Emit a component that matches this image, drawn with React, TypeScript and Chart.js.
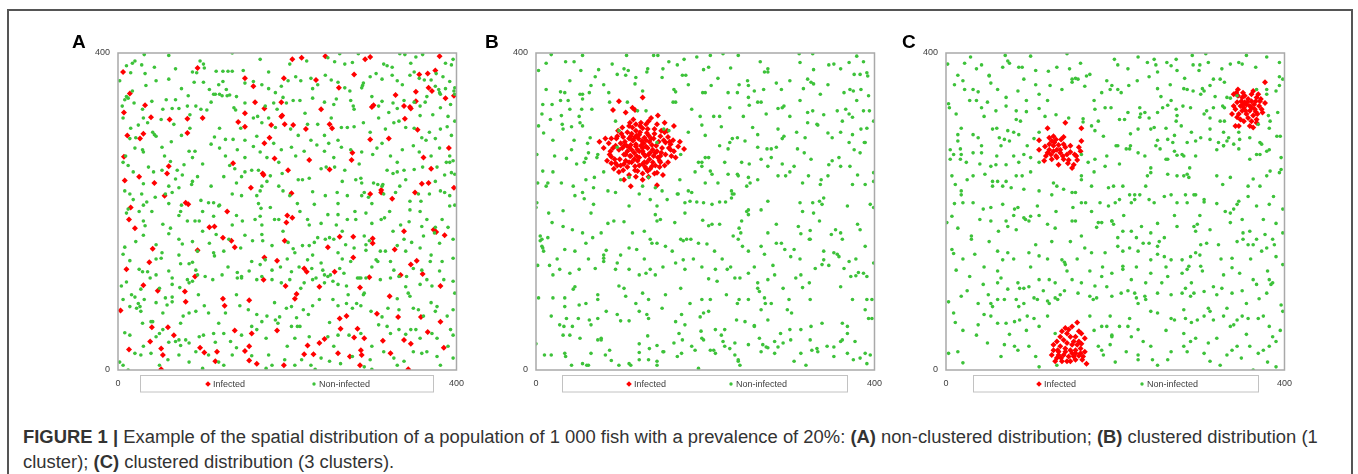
import React, { useEffect, useLayoutEffect, useRef } from "react";
import { Chart, registerables } from "chart.js";

Chart.register(...registerables);

// ---------- data ----------
const AXIS_MIN = 0;
const AXIS_MAX = 400;
const TICK_STEP = 400; // ticks: 0 and 400
const SERIES_NAMES = ["Infected", "Non-infected"];
const PANEL_LETTERS = ["A", "B", "C"];

// flat [x, y, x, y, ...] lists in data units (0..400)
const A_INFECTED = [
  6,376, 94,381, 206,392, 217,394, 245,396, 292,392, 298,395, 380,396, 279,373, 356,373, 366,374, 375,378,
  150,368, 196,368, 234,366, 160,358, 14,349, 261,356, 367,356, 371,352, 352,351, 328,347, 387,343, 397,346,
  32,334, 193,338, 162,338, 173,330, 150,324, 240,329, 300,332, 302,334, 345,332, 346,330, 352,339, 338,333,
  7,325, 39,319, 61,316, 82,317, 100,318, 142,313, 150,307, 193,320, 194,321, 197,310, 181,309, 207,309,
  222,304, 250,310, 253,305, 339,317, 354,303, 11,296, 30,298, 26,292, 82,299, 179,293, 173,286, 298,291,
  320,292, 391,280, 7,269, 277,274, 276,265, 226,265, 185,267, 361,268, 136,261, 60,257, 58,248, 171,248,
  172,246, 201,252, 250,253, 370,254, 25,244, 8,239, 43,236, 157,230, 359,235, 367,236, 397,230, 55,220,
  205,223, 298,222, 311,227, 311,224, 324,216, 351,224, 80,211, 83,209, 15,205, 13,190, 20,179, 129,200,
  200,195, 206,192, 199,186, 108,180, 114,181, 338,175, 373,177, 376,174, 386,170, 124,167, 134,163, 138,155,
  197,163, 262,168, 278,168, 301,166, 301,160, 41,153, 94,151, 248,155, 327,152, 173,142, 188,138, 278,142,
  353,138, 346,133, 37,136, 10,127, 220,128, 223,124, 256,124, 360,121, 334,120, 91,118, 297,117, 30,107,
  47,100, 79,99, 172,114, 198,106, 238,105, 286,104, 381,106, 211,96, 209,90, 124,90, 321,93, 155,88,
  80,86, 126,81, 3,75, 40,54, 59,54, 262,65, 270,68, 306,71, 331,67, 358,67, 381,61, 263,52,
  283,52, 138,50, 158,46, 188,50, 66,44, 38,36, 279,41, 291,40, 313,37, 338,38, 366,48, 224,31,
  238,34, 244,39, 346,33, 385,28, 13,26, 51,27, 97,28, 102,22, 53,19, 117,23, 150,24, 155,30,
  220,20, 231,20, 260,21, 274,17, 287,25, 288,19, 322,21, 115,11, 155,12, 164,8, 196,6, 286,6,
  51,1, 343,1,
];

const A_NON_INFECTED = [
  31,398, 60,397, 135,400, 168,392, 203,386, 223,390, 248,394, 256,389, 262,399, 268,386, 277,388, 284,399,
  314,386, 318,384, 324,382, 333,399, 339,398, 346,387, 352,395, 360,398, 387,387, 396,392, 394,385, 20,390,
  17,387, 10,384, 28,385, 43,382, 68,380, 88,376, 93,375, 101,386, 97,390, 102,381, 116,377, 124,377,
  130,377, 135,377, 148,378, 178,376,
  32,374, 60,367, 90,363, 101,363, 108,354, 119,360, 124,364, 128,354, 132,347, 120,348, 113,348, 150,362,
  160,364, 170,360, 178,355, 186,350, 193,358, 201,365, 210,370, 216,365, 228,368, 236,360, 245,372, 252,366,
  260,363, 268,356, 274,352, 288,356, 290,362, 298,370, 305,374, 312,367, 324,372, 330,365, 336,360, 345,372,
  350,376, 356,368, 362,366, 370,366, 376,374, 384,370, 392,364, 398,356, 397,352, 387,355, 380,350, 375,358,
  33,359, 10,345, 8,341, 2,365, 17,352,
  40,339, 57,341, 68,341, 72,330, 82,333, 92,333, 98,329, 105,328, 83,346, 53,329, 64,330, 29,329,
  19,337, 5,333, 12,343, 137,331, 139,328, 150,337, 115,348, 123,346, 129,346, 174,333, 184,337, 188,329,
  199,337, 195,344, 207,340, 215,340, 221,324, 230,343, 244,338, 258,342, 275,340, 278,333, 279,329, 289,359,
  308,333, 312,339, 325,337, 330,330, 338,340, 350,338, 357,333, 363,338, 381,331, 393,335, 398,348, 379,354,
  381,348,
  51,316, 30,318, 24,309, 41,300, 43,297, 45,295, 35,312, 21,293, 75,296, 66,310, 85,305, 114,294,
  120,305, 127,291, 136,291, 145,305, 164,295, 170,312, 160,318, 178,318, 186,306, 204,304, 213,296, 224,310,
  236,310, 244,296, 252,318, 264,306, 271,306, 279,307, 290,312, 298,300, 308,318, 316,304, 326,312, 332,314,
  340,306, 357,321, 359,293, 350,305, 368,300, 381,304, 389,307, 398,314, 394,296, 372,322, 6,318, 15,305,
  14,292, 29,278, 30,275, 9,270, 52,281, 63,288, 84,276, 91,276, 88,268, 110,285, 127,270, 141,278,
  150,268, 160,282, 168,275, 176,268, 184,286, 193,278, 205,281, 210,270, 228,290, 235,284, 244,276, 249,286,
  255,268, 264,281, 275,278, 288,275, 301,272, 306,280, 312,286, 322,270, 336,278, 349,283, 356,275, 364,290,
  370,270, 380,280, 388,262, 392,270, 396,264,
  6,262, 12,258, 18,250, 36,256, 42,250, 52,252, 62,263, 70,252, 78,259, 76,246, 68,241, 88,238,
  94,244, 125,244, 132,258, 138,254, 146,244, 150,250, 158,252, 166,252, 180,245, 176,238, 194,248, 213,240,
  218,240, 226,242, 240,254, 246,256, 256,256, 268,252, 281,240, 287,242, 288,236, 302,236, 313,234, 318,252,
  325,248, 330,250, 338,252, 350,253, 360,256, 377,256, 386,246, 392,262, 394,249, 398,247,
  8,226, 14,222, 18,215, 28,222, 30,208, 34,212, 44,218, 56,222, 64,224, 72,230, 87,234, 75,208,
  98,214, 107,211, 113,211, 120,208, 135,222, 146,220, 164,220, 168,226, 170,232, 166,210, 169,204, 195,226,
  203,220, 212,210, 232,209, 245,220, 259,224, 260,210, 271,220, 291,224, 288,220, 296,218, 307,234, 312,232,
  314,222, 321,200, 328,224, 333,232, 345,213, 355,222, 358,213, 368,222, 381,226, 386,224, 392,220, 398,208,
  12,203, 10,198, 25,200, 30,188, 32,182, 53,184, 62,179, 72,195, 74,200, 82,188, 91,188, 96,188,
  113,194, 119,207, 135,183, 147,188, 162,190, 168,194, 170,183, 185,190, 190,190, 224,190, 226,183, 248,196,
  258,183, 260,196, 271,190, 281,190, 293,198, 311,190, 315,192, 334,183, 344,187, 345,202, 357,200, 359,181,
  375,180, 383,190, 392,207,
  21,162, 8,155, 45,158, 52,148, 72,165, 76,159, 88,162, 94,150, 108,160, 116,171, 131,165, 145,154,
  159,163, 170,171, 171,163, 182,157, 201,161, 207,153, 209,148, 218,157, 226,157, 232,161, 236,167, 245,165,
  250,167, 255,165, 260,148, 269,158, 279,154, 291,169, 293,158, 293,151, 297,163, 316,150, 330,157, 338,165,
  347,161, 357,154, 361,169, 374,173, 380,160, 396,165,
  6,146, 14,138, 29,124, 25,127, 35,124, 45,140, 51,141, 72,145, 74,134, 84,134, 88,136, 92,126,
  103,118, 113,148, 114,144, 141,123, 146,118, 158,137, 168,133, 174,139, 182,126, 192,130, 205,124, 214,130,
  224,139, 229,128, 240,135, 242,126, 244,120, 251,120, 262,128, 267,122, 275,137, 283,116, 287,116, 305,139,
  307,137, 322,137, 326,126, 349,128, 359,126, 369,137, 383,137, 396,141,
  4,106, 10,111, 16,95, 20,92, 24,84, 31,89, 27,102, 38,116, 49,103, 56,91, 64,108, 64,92,
  73,104, 64,116, 82,114, 84,110, 88,112, 94,120, 112,114, 123,120, 141,116, 146,116, 164,114, 170,118,
  182,114, 193,110, 203,114, 216,103, 230,114, 234,116, 244,110, 248,118, 254,112, 260,108, 270,106, 272,95,
  285,116, 291,97, 293,116, 310,114, 322,116, 332,118, 341,118, 343,97, 345,93, 357,108, 365,114, 371,106,
  385,114, 396,112, 398,97,
  6,89, 14,80, 22,78, 27,74, 26,80, 39,61, 53,72, 58,82, 64,86, 74,59, 77,68, 84,72,
  92,74, 102,81, 107,72, 119,59, 127,72, 144,81, 154,76, 164,70, 170,61, 176,68, 191,67, 199,78,
  205,80, 211,66, 215,55, 219,76, 230,81, 238,89, 254,89, 260,81, 270,84, 277,78, 282,84, 287,81,
  299,74, 312,67, 319,78, 332,76, 349,78, 355,76, 361,68, 375,74, 377,80, 389,68, 396,76,
  8,47, 14,44, 29,59, 41,61, 45,42, 49,46, 53,51, 68,36, 72,38, 80,38, 84,34, 96,42,
  101,44, 113,46, 125,46, 133,36, 146,44, 158,55, 164,51, 186,63, 189,59, 205,55, 209,40, 212,55,
  226,42, 248,42, 260,44, 273,44, 287,46, 308,57, 318,55, 322,46, 332,51, 346,51, 352,51, 357,40,
  371,46, 377,40, 393,51, 396,44,
  2,10, 6,6, 20,21, 27,19, 39,21, 49,6, 59,13, 72,19, 74,31, 84,10, 92,23, 107,19,
  119,10, 125,6, 135,19, 158,18, 178,19, 182,6, 197,13, 209,6, 217,13, 228,6, 240,15, 250,11,
  263,8, 277,17, 291,4, 298,13, 314,23, 326,15, 330,6, 338,11, 349,23, 359,21, 365,23, 377,17,
  381,6, 396,15, 12,0, 100,2, 175,2, 233,1, 300,1,
  15,375, 45,365, 75,355, 85,322, 110,338, 140,345, 165,320, 230,355, 255,335, 300,345, 320,325, 365,345,
  390,320, 20,280, 55,270, 100,260, 120,280, 150,290, 190,262, 220,276, 260,290, 285,260, 330,262, 375,292,
  30,235, 60,232, 110,232, 140,236, 190,232, 230,225, 265,238, 300,210, 340,240, 375,238, 40,200, 60,210,
  100,200, 140,195, 180,205, 215,200, 240,185, 280,200, 300,185, 325,175, 365,190, 390,180, 30,170, 60,172,
  100,175, 125,150, 150,170, 195,175, 230,145, 265,175, 310,150, 340,150, 370,145, 45,120, 60,125, 130,130,
  155,125, 200,140, 220,110, 265,140, 300,130, 340,105, 380,125, 45,85, 95,95, 140,95, 185,85, 225,70,
  250,60, 290,95, 330,90, 370,85, 30,30, 60,35, 115,35, 140,28, 175,40, 200,30, 255,30, 300,30,
  340,45, 390,30,
];

const B_INFECTED = [
  98,339, 126,344, 91,328, 114,331, 117,328, 106,325, 115,316, 144,321, 133,314, 124,312, 118,310, 110,308,
  102,306, 143,310, 152,312, 126,305, 132,304, 155,302, 163,308, 82,292, 89,292, 96,295, 103,294, 75,288,
  112,295, 122,297, 147,295, 139,292, 151,290, 153,287, 159,285, 168,282, 175,279, 94,283, 104,283, 110,281,
  118,285, 120,278, 126,276, 130,282, 114,290, 87,272, 89,269, 106,272, 112,270, 122,268, 133,272, 141,274,
  147,270, 153,272, 159,278, 165,268, 89,261, 94,261, 104,260, 110,262, 117,257, 126,260, 130,254, 137,257,
  146,256, 147,262, 103,252, 120,251, 132,251, 143,249, 118,244, 112,232, 143,233,
  108,300, 113,298, 118,302, 121,292, 125,289, 128,293, 131,299, 134,288, 137,284, 140,298, 105,288, 100,286,
  98,278, 108,276, 116,274, 119,270, 124,283, 127,273, 134,266, 138,278, 142,283, 145,288, 149,280, 144,268,
  128,262, 122,258, 113,262, 106,264, 99,266, 96,258, 91,280, 86,286, 80,280, 84,264, 101,298, 97,302,
  111,312, 130,310, 136,318, 148,302, 156,294, 162,290, 170,288, 160,270, 156,262, 152,258, 140,248, 133,244,
  126,240, 110,246, 104,240, 98,250, 92,254, 150,246, 157,280, 163,276, 117,294, 112,284, 132,280, 120,264,
  138,262, 126,248, 102,280, 95,292,
  115,290, 119,296, 123,300, 127,286, 130,290, 133,296, 110,292, 107,283, 113,278, 118,282, 122,276, 126,280,
  129,270, 135,274, 139,270, 143,276, 146,264, 141,258, 135,254, 129,256, 116,266, 111,270, 104,272, 100,258,
  93,266, 88,276, 114,306, 123,308, 140,304, 152,300, 158,288, 148,274, 117,252, 108,256, 131,262, 136,292,
];

const B_NON_INFECTED = [
  18,398, 12,387, 3,378, 35,389, 45,389, 55,397, 53,378, 74,379, 90,386, 107,397, 104,380, 109,378,
  132,380, 131,376, 139,397, 144,397, 157,389, 167,385, 175,392, 198,379, 204,382, 206,397, 221,399, 230,381,
  239,397, 265,389, 270,376, 274,380, 311,399, 312,388, 327,399, 328,379, 346,385, 352,386, 370,388, 379,396,
  387,389, 376,373, 383,373, 391,375,
  12,354, 40,365, 34,350, 29,351, 52,348, 55,348, 65,359, 63,350, 86,350, 96,373, 106,372, 118,369,
  117,361, 149,369, 163,354, 165,351, 177,372, 173,372, 197,350, 200,350, 207,359, 227,350, 238,350, 250,365,
  251,359, 258,352, 269,354, 274,376, 284,362, 290,354, 316,355, 321,367, 325,363, 328,361, 336,348, 364,350,
  371,354, 375,352, 384,354, 393,346, 392,371,
  8,335, 19,335, 29,340, 38,340, 55,342, 54,329, 66,329, 40,329, 30,321, 7,323, 51,320, 87,338,
  94,314, 108,338, 120,327, 126,352, 130,327, 162,338, 165,338, 184,329, 194,320, 217,320, 229,331, 251,344,
  252,334, 262,338, 266,338, 272,323, 286,330, 291,331, 293,333, 312,340, 321,325, 327,327, 332,310, 356,327,
  366,329, 370,323, 374,319, 379,340, 387,327, 394,327,
  3,308, 9,299, 17,316, 31,310, 32,304, 42,307, 52,312, 55,308, 64,293, 61,286, 98,302, 151,304,
  157,302, 196,309, 219,307, 232,292, 238,293, 247,289, 229,287, 262,297, 286,304, 291,292, 293,295, 308,300,
  318,293, 333,309, 321,312, 345,299, 350,293, 374,297, 384,304, 391,305, 389,287, 399,314, 370,287, 362,314,
  1,272, 22,270, 36,267, 42,278, 57,262, 59,267, 62,274, 72,268, 73,272, 96,281, 143,287, 171,272,
  192,262, 196,262, 200,268, 204,268, 217,283, 227,279, 223,262, 243,262, 252,260, 262,281, 273,279, 278,279,
  284,281, 278,268, 266,266, 291,260, 309,279, 325,266, 317,274, 346,259, 350,264, 358,268, 371,257, 376,278,
  388,287, 383,274,
  8,251, 14,236, 12,232, 30,236, 44,232, 59,240, 69,243, 85,226, 68,230, 110,243, 126,232, 133,243,
  141,230, 167,222, 180,226, 184,224, 196,257, 206,251, 208,247, 215,236, 227,247, 231,226, 232,222, 238,247,
  239,245, 251,243, 253,236, 249,232, 274,257, 286,245, 295,245, 305,257, 322,245, 337,240, 336,234, 360,257,
  374,234, 389,234, 399,238, 399,249,
  1,211, 0,205, 15,198, 32,201, 46,220, 55,224, 57,216, 68,209, 65,198, 94,224, 110,207, 122,222,
  135,215, 143,207, 149,226, 155,215, 168,222, 176,211, 182,213, 190,212, 198,211, 208,209, 217,212, 224,212,
  231,217, 234,222, 249,200, 251,202, 266,202, 274,213, 312,211, 315,200, 327,211, 328,198, 338,209, 335,213,
  340,217, 368,207, 395,209, 399,205,
  14,167, 5,169, 19,186, 32,181, 43,177, 55,173, 67,167, 77,173, 85,185, 92,188, 104,187, 114,173,
  128,175, 141,196, 143,188, 147,190, 164,186, 176,198, 171,165, 183,165, 197,189, 204,182, 208,184, 217,184,
  240,179, 242,173, 243,188, 251,196, 274,173, 284,184, 310,181, 313,172, 324,176, 324,165, 335,188, 349,171,
  354,177, 360,173, 380,184, 383,177,
  7,156, 9,150, 5,163, 34,152, 59,160, 83,151, 80,141, 110,154, 119,152, 135,165, 137,160, 143,160,
  153,156, 161,150, 174,163, 178,165, 192,160, 202,159, 211,150, 233,169, 239,165, 244,156, 251,150, 266,156,
  284,160, 290,160, 294,152, 301,143, 305,152, 323,165, 340,150, 340,139, 352,148, 362,165, 358,143, 370,137,
  389,156,
  2,132, 16,132, 28,127, 40,122, 51,127, 80,145, 80,137, 94,127, 96,135, 110,127, 122,120, 130,122,
  135,127, 141,120, 165,135, 174,139, 176,127, 204,115, 212,127, 214,112, 226,127, 235,116, 241,116, 251,122,
  262,110, 274,114, 282,120, 307,116, 313,120, 323,110, 338,133, 356,146, 372,118, 378,119, 381,123, 387,122,
  399,135, 391,118,
  3,91, 20,91, 34,91, 44,102, 46,105, 51,82, 59,84, 73,95, 73,89, 98,106, 104,103, 106,93,
  118,84, 126,97, 133,89, 153,95, 171,103, 182,84, 196,89, 206,89, 225,95, 238,84, 240,89, 251,89,
  262,103, 264,99, 270,91, 278,84, 292,103, 299,89, 315,104, 324,89, 360,105, 374,89, 391,89, 397,89,
  18,68, 28,57, 33,55, 43,55, 36,65, 50,65, 63,63, 65,57, 73,65, 83,74, 96,70, 100,62,
  110,62, 122,74, 131,70, 133,65, 149,78, 165,61, 172,70, 176,57, 194,67, 198,72, 204,74, 212,51,
  223,51, 237,63, 247,61, 258,56, 266,76, 271,84, 274,63, 297,76, 302,72, 313,51, 325,55, 338,59,
  362,59, 368,55, 389,76, 393,65,
  0,33, 10,19, 18,19, 34,21, 35,17, 42,6, 55,8, 60,6, 65,21, 73,38, 77,38, 87,25,
  98,6, 112,6, 122,13, 133,13, 143,11, 143,6, 151,23, 167,17, 172,21, 192,2, 195,49, 198,38,
  206,25, 219,44, 221,36, 229,27, 235,19, 239,11, 241,6, 251,32, 266,23, 272,29, 282,21, 286,29,
  292,34, 305,11, 319,6, 326,25, 333,23, 352,29, 360,36, 368,21, 375,13, 391,8, 395,19,
  2,236, 7,165, 8,154, 34,80, 32,44, 40,44, 52,40, 62,6, 77,40, 82,19, 89,12, 110,8,
  122,33, 122,22, 132,43, 134,27, 143,31, 150,23, 163,34, 169,46, 173,38, 184,30, 188,25, 196,40,
  210,25, 212,21, 223,30, 235,34, 239,13, 258,55, 264,40, 268,32, 274,28, 282,36, 289,46, 300,51,
  301,38, 313,21, 324,38, 332,27, 344,30, 352,17, 362,38, 368,46, 377,36, 383,15, 389,21, 397,65,
  20,120, 25,140, 46,150, 62,140, 70,128, 100,145, 128,140, 150,130, 186,140, 196,130, 220,140, 230,130,
  258,130, 270,146, 280,132, 312,140, 330,128, 346,132, 364,128, 378,140,
  20,250, 48,260, 80,250, 100,240, 170,240, 188,250, 200,236, 262,240, 300,250, 315,236, 345,245, 380,246,
  180,300, 200,296, 210,320, 245,320, 256,306, 300,320, 340,322, 360,300, 20,290, 45,290, 180,360, 215,368,
  240,360, 300,365, 345,360, 360,380, 80,360, 70,370, 150,380, 190,395,
];

const C_INFECTED = [
  377,363, 345,354, 343,350, 340,348, 361,348, 369,348, 367,344, 350,344, 357,342, 353,338, 361,339, 371,339,
  377,337, 344,338, 348,333, 352,331, 359,333, 365,329, 373,329, 342,329, 338,323, 346,323, 355,323, 363,321,
  367,316, 361,314, 352,314, 346,308, 342,308, 363,306, 350,327, 359,327, 355,335, 364,335, 349,339, 370,333,
  357,318, 345,346, 353,346, 363,352, 368,323, 374,325, 340,333, 348,316, 359,308, 367,312, 356,338, 361,331,
  351,335, 366,339, 354,327, 344,319, 366,326, 372,342, 351,350,
  141,312, 160,305, 120,305, 110,290, 127,295, 139,294, 160,289, 117,282, 110,278, 127,283, 131,278, 122,278,
  135,274, 141,281, 147,275, 152,272, 159,276, 116,264, 125,266, 131,268, 139,266, 145,265, 151,259, 154,270,
  149,255, 144,261, 130,270, 124,272, 120,274, 133,284, 136,291, 125,289, 130,291, 122,285, 138,270, 133,259,
  155,265, 128,287, 135,278, 143,272, 122,293, 118,270, 127,276, 139,285, 147,283, 157,281,
  155,60, 149,55, 141,53, 157,49, 143,46, 147,42, 135,42, 139,38, 151,36, 155,32, 160,33, 164,40,
  131,36, 127,32, 135,30, 141,27, 147,25, 153,25, 159,27, 164,23, 125,19, 133,19, 139,19, 145,17,
  151,17, 157,18, 162,17, 131,15, 137,11, 143,11, 166,8, 129,11, 149,21, 143,34, 149,32, 137,49,
  153,42, 132,25, 159,21, 147,11, 153,13, 127,25, 145,51, 160,46, 133,23, 141,23, 153,21, 157,36,
  136,15, 161,13,
];

const C_NON_INFECTED = [
  2,386, 22,387, 29,395, 36,380, 42,385, 51,372, 67,382, 70,397, 73,390, 75,387, 86,382, 90,382,
  100,396, 106,378, 121,377, 131,382, 143,399, 146,380, 149,367, 153,368, 159,387, 170,373, 199,392, 203,385,
  227,395, 238,388, 246,392, 248,385, 250,376, 261,388, 266,384, 272,392, 273,378, 291,397, 292,385, 299,378,
  307,399, 310,388, 326,380, 324,367, 336,386, 346,388, 350,386, 355,397, 366,382, 379,395, 394,388, 398,367,
  14,372, 20,365, 22,354, 32,354, 38,351, 53,362, 51,371, 61,354, 71,344, 85,352, 92,367, 106,360,
  110,348, 123,359, 137,354, 149,363, 156,367, 164,358, 166,371, 184,350, 194,354, 196,359, 203,354, 207,350,
  216,359, 226,365, 250,355, 254,345, 281,355, 285,354, 292,352, 303,355, 305,352, 301,348, 312,359, 316,367,
  329,363, 332,344, 336,343, 344,346, 367,354, 379,354, 379,348, 390,352, 394,359, 394,370,
  3,336, 4,331, 12,323, 36,340, 42,331, 49,338, 59,327, 71,333, 83,327, 95,326, 88,314, 83,316,
  110,330, 117,320, 145,318, 162,317, 162,313, 176,329, 180,314, 188,331, 195,331, 205,316, 211,316, 215,325,
  229,331, 230,323, 235,325, 229,319, 240,318, 250,325, 256,331, 262,334, 266,340, 272,329, 273,321, 272,314,
  280,333, 289,331, 305,323, 308,327, 327,333, 316,331, 329,331, 324,314, 329,314, 381,321, 383,314, 369,310,
  392,325,
  14,297, 18,305, 14,289, 32,297, 38,293, 42,283, 55,304, 63,293, 65,283, 69,291, 73,302, 75,289,
  86,297, 96,283, 104,292, 110,300, 172,308, 176,302, 186,295, 203,283, 218,283, 218,298, 227,304, 242,304,
  246,306, 260,305, 262,291, 268,287, 278,308, 285,287, 295,289, 301,293, 312,304, 322,287, 328,283, 332,289,
  334,293, 346,300, 347,291, 359,293, 371,287, 373,285, 382,305, 391,295, 395,295,
  5,266, 9,272, 5,278, 17,279, 18,272, 17,266, 24,262, 32,274, 42,274, 53,257, 59,259, 71,259,
  86,262, 92,272, 100,268, 110,262, 160,272, 168,262, 176,266, 188,257, 201,283, 213,279, 217,279, 227,274,
  242,255, 248,283, 253,279, 260,266, 262,266, 270,276, 273,271, 279,272, 281,270, 288,255, 295,270, 312,291,
  320,278, 328,283, 340,285, 346,279, 359,266, 367,272, 371,272, 379,276, 382,278, 396,268, 396,253,
  7,245, 11,234, 18,226, 32,245, 46,247, 55,238, 61,238, 55,232, 67,232, 71,238, 83,245, 77,230,
  90,245, 92,228, 110,226, 127,236, 125,221, 131,232, 139,228, 149,224, 153,224, 160,245, 172,232, 192,230,
  198,232, 209,232, 217,221, 223,215, 229,221, 236,232, 238,245, 242,249, 262,247, 273,245, 281,245, 285,247,
  287,243, 293,221, 305,215, 320,245, 327,234, 336,243, 357,232, 363,241, 371,232, 379,245, 383,251, 394,249,
  7,194, 18,221, 20,211, 32,211, 44,203, 53,205, 67,209, 81,203, 85,205, 94,190, 100,194, 108,207,
  160,211, 165,211, 172,200, 182,211, 192,207, 196,188, 200,211, 205,215, 219,211, 223,221, 240,215, 246,211,
  258,219, 266,221, 273,211, 283,221, 285,211, 295,221, 305,212, 330,200, 336,198, 340,203, 344,209, 346,213,
  357,219, 367,207, 382,209, 387,219, 398,203,
  1,186, 14,179, 30,169, 53,188, 71,188, 73,181, 83,177, 92,192, 98,188, 120,184, 129,179, 149,188,
  153,188, 160,169, 180,186, 184,186, 196,188, 198,184, 203,167, 209,175, 219,175, 225,167, 231,181, 242,173,
  252,162, 258,167, 273,181, 293,181, 295,175, 297,184, 312,177, 336,186, 351,173, 359,175, 363,158, 377,171,
  386,165, 398,173,
  7,152, 9,147, 30,165, 34,146, 51,162, 61,150, 67,139, 73,148, 98,148, 110,144, 106,158, 125,162,
  137,139, 140,136, 147,162, 164,154, 172,148, 188,148, 203,156, 209,150, 217,154, 227,150, 233,160, 240,160,
  242,139, 250,156, 250,146, 258,143, 266,139, 279,139, 289,143, 295,148, 301,158, 308,160, 322,158, 338,141,
  344,162, 351,165, 357,158, 367,165, 373,150, 379,154, 390,143, 388,158,
  12,126, 28,118, 44,108, 61,125, 61,110, 65,116, 73,102, 87,103, 92,103, 98,105, 110,114, 122,114,
  129,110, 141,133, 143,125, 149,114, 170,125, 176,106, 184,118, 196,122, 209,131, 209,127, 219,114, 236,110,
  242,122, 262,118, 279,122, 285,127, 287,131, 301,131, 303,125, 316,105, 328,120, 338,129, 347,122, 363,114,
  367,108, 382,114, 384,108, 386,110, 398,133,
  3,86, 9,72, 18,93, 38,84, 53,84, 55,80, 61,89, 69,89, 83,89, 86,80, 92,84, 104,91,
  108,89, 120,87, 122,84, 129,91, 132,89, 135,95, 156,97, 170,93, 174,89, 178,91, 196,93, 207,97,
  223,97, 225,91, 235,93, 236,89, 227,84, 250,97, 266,95, 279,97, 283,103, 289,93, 293,97, 305,99,
  326,103, 338,97, 355,84, 379,97, 396,82,
  11,60, 38,57, 53,68, 61,59, 71,59, 81,61, 87,63, 96,68, 104,65, 110,55, 120,68, 129,46,
  170,68, 184,55, 190,55, 194,68, 196,44, 205,55, 217,65, 227,51, 242,74, 250,72, 266,65, 270,63,
  281,76, 283,65, 297,63, 305,68, 310,78, 312,74, 316,63, 328,68, 332,78, 336,55, 340,57, 344,63,
  350,68, 357,65, 369,65, 375,68, 382,55, 398,74,
  3,21, 14,23, 20,9, 36,44, 49,34, 65,17, 69,32, 81,30, 85,25, 98,30, 106,17, 110,4,
  131,6, 184,25, 186,19, 194,32, 196,42, 213,23, 219,42, 227,19, 227,13, 233,36, 242,30, 244,13,
  250,6, 262,13, 266,23, 281,46, 281,30, 285,23, 289,36, 295,40, 305,21, 310,34, 312,11, 324,6,
  332,19, 338,25, 344,30, 349,15, 359,30, 363,0, 369,21, 375,25, 382,30, 386,42, 390,36, 390,4,
  10,360, 28,340, 45,320, 60,305, 80,300, 95,340, 120,340, 130,322, 175,340, 190,365, 215,380, 240,370,
  265,360, 282,368, 300,385, 318,345, 328,300, 312,318, 290,300, 270,296, 250,290, 235,270, 205,260, 190,270,
  175,250, 160,240, 100,250, 80,270, 60,270, 40,260, 25,240, 10,210, 40,190, 62,175, 80,195, 110,195,
  130,200, 150,205, 178,180, 210,195, 250,185, 270,195, 300,195, 320,210, 350,190, 375,190, 390,185, 20,140,
  45,130, 80,140, 100,130, 120,140, 155,140, 185,130, 225,130, 260,130, 300,145, 325,140, 360,140, 380,125,
  25,100, 50,95, 85,110, 115,100, 140,100, 160,110, 190,105, 215,100, 255,110, 290,110, 320,95, 350,100,
  370,90, 20,50, 45,70, 75,45, 95,50, 175,50, 180,30, 200,10, 215,55, 260,50, 290,60, 320,40,
  355,45, 380,10, 395,50,
];

// ---------- styling ----------
const RED = "#ff0000";
const GREEN = "#3dc23a";
const FONT = "'Liberation Sans', Arial, Helvetica, sans-serif";

function toPoints(flat: number[]) {
  const pts: { x: number; y: number }[] = [];
  for (let i = 0; i + 1 < flat.length; i += 2) pts.push({ x: flat[i], y: flat[i + 1] });
  return pts;
}

const plotFrame = {
  id: "plotFrame",
  afterDatasetsDraw(chart: any) {
    const { ctx, chartArea: a } = chart;
    ctx.save();
    ctx.strokeStyle = "#a9a9a9";
    ctx.lineWidth = 1.5;
    ctx.strokeRect(a.left, a.top, a.right - a.left, a.bottom - a.top);
    ctx.restore();
  },
};

const legendBox = {
  id: "legendBox",
  afterDraw(chart: any, _args: any, opts: any) {
    const { ctx, chartArea: a } = chart;
    ctx.save();
    ctx.strokeStyle = "#c2c2c2";
    ctx.lineWidth = 1;
    ctx.strokeRect(Math.round(a.left + opts.boxLeft) + 0.5, Math.round(a.bottom + 5) + 0.5, opts.boxWidth, 16.5);
    const cy = a.bottom + 14;
    ctx.font = `9px ${FONT}`;
    ctx.textBaseline = "middle";
    ctx.textAlign = "left";
    SERIES_NAMES.forEach((name, i) => {
      const ds = chart.data.datasets.find((d: any) => d.label === name);
      if (!ds) return;
      const mx = a.left + opts.markers[i];
      ctx.fillStyle = ds.backgroundColor;
      ctx.beginPath();
      if (ds.pointStyle === "rectRot") {
        const r = 2.8;
        ctx.moveTo(mx, cy - r);
        ctx.lineTo(mx + r, cy);
        ctx.lineTo(mx, cy + r);
        ctx.lineTo(mx - r, cy);
        ctx.closePath();
      } else {
        ctx.arc(mx, cy, 1.7, 0, Math.PI * 2);
      }
      ctx.fill();
      ctx.fillStyle = "#404040";
      ctx.fillText(name, mx + 5, cy + 0.5);
    });
    ctx.restore();
  },
};

type PanelProps = {
  letter: string;
  letterLeft: number;
  plotLeft: number;
  infected: number[];
  nonInfected: number[];
  boxLeft: number;
  boxWidth: number;
  markers: number[];
};

const CANVAS_W = 412;
const CANVAS_H = 390;
const Y_AXIS_W = 58;
const X_AXIS_H = 40;

function Panel(p: PanelProps) {
  const ref = useRef<HTMLCanvasElement>(null);
  useEffect(() => {
    if (!ref.current) return;
    const tickStyle = {
      stepSize: TICK_STEP,
      padding: 8,
      color: "#404040",
      font: { family: FONT, size: 9 },
      maxRotation: 0,
      autoSkip: false,
    };
    const chart = new Chart(ref.current, {
      type: "scatter",
      data: {
        datasets: [
          {
            label: SERIES_NAMES[0],
            data: toPoints(p.infected),
            pointStyle: "rectRot",
            pointRadius: 3,
            backgroundColor: RED,
            borderWidth: 0,
            order: 1,
          },
          {
            label: SERIES_NAMES[1],
            data: toPoints(p.nonInfected),
            pointStyle: "circle",
            pointRadius: 1.8,
            backgroundColor: GREEN,
            borderWidth: 0,
            order: 0,
          },
        ],
      },
      options: {
        responsive: false,
        animation: false,
        events: [],
        layout: { padding: { top: 33, right: 12, left: 0, bottom: 0 } },
        plugins: {
          legend: { display: false },
          tooltip: { enabled: false },
          legendBox: { boxLeft: p.boxLeft, boxWidth: p.boxWidth, markers: p.markers },
        } as any,
        scales: {
          x: {
            type: "linear",
            min: AXIS_MIN,
            max: AXIS_MAX,
            grid: { display: false, drawTicks: false },
            border: { display: false },
            ticks: tickStyle,
            afterFit: (s: any) => {
              s.height = X_AXIS_H;
            },
          },
          y: {
            type: "linear",
            min: AXIS_MIN,
            max: AXIS_MAX,
            grid: { display: false, drawTicks: false },
            border: { display: false },
            ticks: tickStyle,
            afterFit: (s: any) => {
              s.width = Y_AXIS_W;
            },
          },
        },
      },
      plugins: [plotFrame, legendBox],
    } as any);
    return () => chart.destroy();
  }, []);
  return (
    <>
      <canvas
        ref={ref}
        width={CANVAS_W}
        height={CANVAS_H}
        style={{ position: "absolute", left: p.plotLeft - Y_AXIS_W, top: 20, width: CANVAS_W, height: CANVAS_H }}
      />
      <div
        style={{
          position: "absolute",
          left: p.letterLeft,
          top: 32,
          font: `bold 19px ${FONT}`,
          lineHeight: "19px",
          color: "#000",
        }}
      >
        {p.letter}
      </div>
    </>
  );
}

function Caption() {
  const l1 = useRef<HTMLSpanElement>(null);
  const l2 = useRef<HTMLSpanElement>(null);
  useLayoutEffect(() => {
    if (!l1.current || !l2.current) return;
    const w = l1.current.offsetWidth;
    if (w > 0) {
      const s = 1295 / w;
      l1.current.style.transform = `scaleX(${s})`;
      l2.current.style.transform = `scaleX(${s})`;
    }
  }, []);
  const line: React.CSSProperties = {
    position: "absolute",
    left: 23,
    display: "inline-block",
    whiteSpace: "nowrap",
    transformOrigin: "0 0",
    font: `18px ${FONT}`,
    lineHeight: "18px",
    color: "#333",
  };
  return (
    <>
      <span ref={l1} style={{ ...line, top: 428 }}>
        <b>FIGURE 1 |</b> Example of the spatial distribution of a population of 1 000 fish with a prevalence of 20%:{" "}
        <b>(A)</b> non-clustered distribution; <b>(B)</b> clustered distribution (1
      </span>
      <span ref={l2} style={{ ...line, top: 453 }}>
        cluster); <b>(C)</b> clustered distribution (3 clusters).
      </span>
    </>
  );
}

export default function App() {
  return (
    <div
      style={{
        position: "absolute",
        left: 0,
        top: 0,
        width: 1358,
        height: 474,
        overflow: "hidden",
        background: "#fff",
      }}
    >
      <div
        style={{
          position: "absolute",
          left: 7,
          top: 9,
          width: 1346,
          height: 520,
          boxSizing: "border-box",
          border: "2px solid #555",
          borderBottom: "none",
        }}
      />
      <Panel
        letter={PANEL_LETTERS[0]}
        letterLeft={72}
        plotLeft={118}
        infected={A_INFECTED}
        nonInfected={A_NON_INFECTED}
        boxLeft={22}
        boxWidth={293}
        markers={[90, 196]}
      />
      <Panel
        letter={PANEL_LETTERS[1]}
        letterLeft={485}
        plotLeft={536}
        infected={B_INFECTED}
        nonInfected={B_NON_INFECTED}
        boxLeft={26}
        boxWidth={285}
        markers={[93, 195]}
      />
      <Panel
        letter={PANEL_LETTERS[2]}
        letterLeft={902}
        plotLeft={946}
        infected={C_INFECTED}
        nonInfected={C_NON_INFECTED}
        boxLeft={27}
        boxWidth={285}
        markers={[93, 196]}
      />
      <Caption />
    </div>
  );
}
